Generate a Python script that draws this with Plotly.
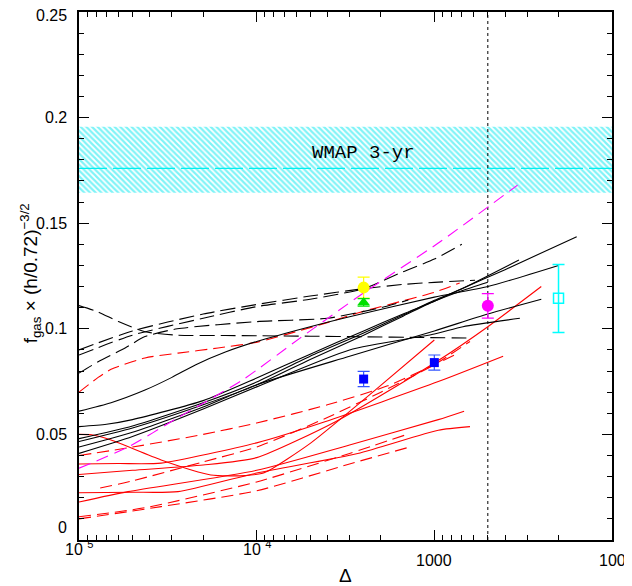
import math
import plotly.graph_objects as go

# ---------------- data (Delta, f_gas) ----------------
# black dashed curves
bd1_x = [100000, 78000, 60000, 42500, 28000, 15000, 10000, 5000, 2500, 1200, 630]
bd1_y = [0.111, 0.108, 0.1034, 0.0986, 0.097, 0.0968, 0.0967, 0.0965, 0.0962, 0.0959, 0.0956]
bd2_x = [100000, 50000, 20000, 10000, 5000, 2500, 1500, 1000, 590]
bd2_y = [0.090, 0.099, 0.107, 0.1115, 0.1155, 0.119, 0.121, 0.122, 0.123]
bd3_x = [100000, 50000, 20000, 10000, 5000, 2500, 1500, 1000, 700]
bd3_y = [0.0876, 0.097, 0.105, 0.1105, 0.114, 0.119, 0.127, 0.133, 0.140]
bd4_x = [100000, 78000, 55000, 42500, 28000, 10000, 4000, 2000, 1400]
bd4_y = [0.079, 0.0844, 0.0909, 0.0963, 0.100, 0.1034, 0.105, 0.110, 0.1136]

# black solid curves
bs1_x = [100000, 66000, 42500, 30000, 22000, 15000, 10000, 5000, 3000, 1000, 500, 200]
bs1_y = [0.061, 0.065, 0.071, 0.077, 0.083, 0.089, 0.094, 0.101, 0.1057, 0.115, 0.120, 0.130]
k1_x = [100000, 70000, 50000, 20000, 10000, 5000, 2500, 1500, 1000, 700, 400, 158]
k1_y = [0.0537, 0.0548, 0.057, 0.066, 0.0767, 0.088, 0.099, 0.107, 0.113, 0.119, 0.128, 0.1436]
k2_x = [100000, 50000, 20000, 10000, 5000, 2500, 1500, 1000, 700, 334]
k2_y = [0.048, 0.054, 0.065, 0.0748, 0.087, 0.098, 0.1065, 0.1135, 0.119, 0.1326]
k3_x = [100000, 50000, 20000, 10000, 5000, 2500, 1500, 1000, 700, 500]
k3_y = [0.0466, 0.053, 0.064, 0.0734, 0.0855, 0.097, 0.106, 0.113, 0.118, 0.122]
ka_x = [100000, 50000, 20000, 10000, 3000, 1000, 690, 330]
ka_y = [0.041, 0.049, 0.062, 0.0725, 0.090, 0.0975, 0.101, 0.105]
kb_x = [100000, 50000, 20000, 10000, 3000, 1000, 500, 250]
kb_y = [0.044, 0.051, 0.063, 0.0735, 0.087, 0.099, 0.107, 0.114]

# red dashed curves
rd1_x = [100000, 78000, 66000, 42500, 27700, 16500, 9800, 4100, 2700, 990, 720]
rd1_y = [0.070, 0.077, 0.0808, 0.0862, 0.0885, 0.0909, 0.0938, 0.1027, 0.1075, 0.1174, 0.1217]
rd2_x = [100000, 50000, 20000, 10000, 4000, 1830, 750]
rd2_y = [0.040, 0.044, 0.050, 0.0554, 0.064, 0.073, 0.088]
rd3_x = [76000, 50000, 20000, 10000, 4000, 2000, 1000, 630]
rd3_y = [0.0246, 0.028, 0.037, 0.044, 0.058, 0.070, 0.083, 0.094]
rd4_x = [100000, 42500, 10000, 3000, 1460]
rd4_y = [0.011, 0.0153, 0.0275, 0.041, 0.0497]
rd5_x = [100000, 34500, 10000, 3000, 1380]
rd5_y = [0.010, 0.0158, 0.0233, 0.036, 0.044]

# red solid curves
rh_x = [100000, 85000, 66000, 34500, 18100, 11600, 9000, 4950, 2080, 1000]
rh_y = [0.050, 0.0498, 0.0473, 0.0379, 0.0308, 0.0305, 0.032, 0.046, 0.072, 0.0947]
r1_x = [100000, 50000, 20000, 10000, 3600, 950, 500, 250]
r1_y = [0.031, 0.033, 0.0355, 0.039, 0.056, 0.085, 0.101, 0.120]
r3_x = [100000, 60000, 34500, 10000, 4130, 950, 410]
r3_y = [0.036, 0.0362, 0.0364, 0.046, 0.056, 0.075, 0.087]
r7_x = [100000, 50000, 27700, 10000, 2700, 950, 630]
r7_y = [0.0224, 0.0226, 0.0229, 0.0317, 0.041, 0.052, 0.0537]
r6_x = [100000, 53000, 10000, 3000, 950, 680]
r6_y = [0.018, 0.0229, 0.033, 0.045, 0.057, 0.061]

# magenta dashed
mg_x = [100000, 53000, 28000, 12000, 5700, 2500, 950, 340]
mg_y = [0.034, 0.044, 0.0577, 0.0758, 0.0956, 0.117, 0.1406, 0.168]

# observational points
yel_x, yel_y, yel_e = [2500], [0.1195], [0.005]
grn_x, grn_y, grn_e = [2500], [0.1125], [0.0018]
blu_x, blu_y, blu_e = [2500, 1000], [0.0762, 0.0840], [0.0036, 0.0036]
mag_x, mag_y, mag_e = [500], [0.1109], [0.0058]
cyn_x, cyn_y, cyn_lo, cyn_hi = [200], [0.1145], [0.0162], [0.016]

# WMAP band
wmap_lo, wmap_mid, wmap_hi = 0.1644, 0.176, 0.1957
x_min, x_max = 100000, 100
delta_vline = 500

xtick_vals = [100000, 10000, 1000, 100]
xtick_text = ["10 <sup>5</sup>", "10 <sup>4</sup>", "1000", "100"]
ytick_vals = [0, 0.05, 0.1, 0.15, 0.2, 0.25]
ytick_text = ["0", "0.05", "0.1", "0.15", "0.2", "0.25"]

fig = go.Figure()

# WMAP hatched band
fig.add_trace(go.Scatter(
    x=[x_min, x_max, x_max, x_min, x_min],
    y=[wmap_lo, wmap_lo, wmap_hi, wmap_hi, wmap_lo],
    mode="lines", line=dict(width=0), fill="toself",
    fillcolor="rgba(0,0,0,0)",
    fillpattern=dict(shape="\\", fgcolor="#00e8f0", bgcolor="white", size=4, solidity=0.55),
    hoverinfo="skip", showlegend=False))
fig.add_trace(go.Scatter(x=[x_min, x_max], y=[wmap_mid, wmap_mid], mode="lines",
                         line=dict(color="#00f0f0", width=1.2, dash="28px,6px"), showlegend=False))

# vertical dotted line
fig.add_trace(go.Scatter(x=[delta_vline, delta_vline], y=[0, 0.25], mode="lines",
                         line=dict(color="black", width=1, dash="dot"), showlegend=False))

def curve(x, y, color, dash=None, width=1.1):
    fig.add_trace(go.Scatter(x=x, y=y, mode="lines",
                             line=dict(color=color, width=width, dash=dash, shape="spline", smoothing=0.6),
                             showlegend=False, hoverinfo="skip"))

RED = "#ff0000"
for xs, ys in [(rh_x, rh_y), (r1_x, r1_y), (r3_x, r3_y), (r7_x, r7_y), (r6_x, r6_y)]:
    curve(xs, ys, RED)
for xs, ys in [(rd1_x, rd1_y), (rd2_x, rd2_y), (rd3_x, rd3_y), (rd4_x, rd4_y), (rd5_x, rd5_y)]:
    curve(xs, ys, RED, dash="12px,6px")
for xs, ys in [(bs1_x, bs1_y), (k1_x, k1_y), (k2_x, k2_y), (k3_x, k3_y), (ka_x, ka_y), (kb_x, kb_y)]:
    curve(xs, ys, "black")
for xs, ys in [(bd1_x, bd1_y), (bd2_x, bd2_y), (bd3_x, bd3_y), (bd4_x, bd4_y)]:
    curve(xs, ys, "black", dash="15px,6px")
curve(mg_x, mg_y, "#ff00ff", dash="12px,7px")

def pts(x, y, e, color, symbol, size, ebw=1.2, cap=6, ecolor=None, line=None, elo=None):
    ey = dict(type="data", array=e, color=ecolor or color, thickness=ebw, width=cap, visible=True)
    if elo is not None:
        ey["symmetric"] = False
        ey["arrayminus"] = elo
    fig.add_trace(go.Scatter(x=x, y=y, mode="markers",
                             marker=dict(color=color, symbol=symbol, size=size,
                                         line=line or dict(width=0)),
                             error_y=ey, showlegend=False))

pts(yel_x, yel_y, yel_e, "#ffff00", "circle", 12)
pts(grn_x, grn_y, grn_e, "#00e000", "triangle-up", 11)
pts(blu_x, blu_y, blu_e, "#0000ff", "square", 9, ecolor="#3355ff")
pts(mag_x, mag_y, mag_e, "#ff00ff", "circle", 12)
pts(cyn_x, cyn_y, cyn_hi, "#00ffff", "square-open", 10, ebw=1.5, elo=cyn_lo,
    line=dict(width=1.5, color="#00ffff"))

fig.add_annotation(x=3.40, y=0.1832, xref="x", yref="y", text="WMAP 3-yr", showarrow=False,
                   font=dict(family="Liberation Mono, Courier New, monospace", size=19, color="black"))

label_font = dict(family="Liberation Sans, Arial, Helvetica, sans-serif", size=16, color="black")

# y tick labels (the "0" label sits slightly raised, as in the reference)
for v, t in zip(ytick_vals, ytick_text):
    yy = v + 0.006 if v == 0 else v
    ys = -3 if v == 0.25 else 0
    fig.add_annotation(x=0, xref="paper", xshift=-10, y=yy, yref="y", yshift=ys, text=t, showarrow=False,
                       xanchor="right", yanchor="middle", font=label_font)
# x tick labels
for v, t in zip(xtick_vals, xtick_text):
    yshift = -8 if "sup" in t else -20
    fig.add_annotation(x=math.log10(v), xref="x", y=0, yref="paper", yshift=yshift, text=t,
                       showarrow=False, xanchor="center", yanchor="middle", font=label_font)
# axis titles
fig.add_annotation(x=0.5, xref="paper", y=0, yref="paper", yshift=-35, text="Δ", showarrow=False,
                   xanchor="center", yanchor="middle",
                   font=dict(family="Liberation Sans, Arial, sans-serif", size=19, color="black"))
fig.add_annotation(x=0, xref="paper", xshift=-49, y=0.505, yref="paper",
                   text="f<sub>gas</sub> × (h/0.72)<sup>−3/2</sup>", textangle=-90, showarrow=False,
                   xanchor="center", yanchor="middle",
                   font=dict(family="Liberation Sans, Arial, sans-serif", size=19, color="black"))

fig.update_xaxes(type="log", range=[5, 2], tickvals=xtick_vals, ticktext=[""] * 4,
                 ticks="inside", ticklen=10, tickwidth=1.2, tickcolor="black",
                 minor=dict(ticks="inside", ticklen=5, tickwidth=1, tickcolor="black", dtick="D1", showgrid=False),
                 showline=True, linecolor="black", linewidth=1.5, mirror="allticks",
                 showgrid=False, zeroline=False, automargin=False)
fig.update_yaxes(range=[0, 0.25], tickvals=ytick_vals, ticktext=[""] * 6,
                 ticks="inside", ticklen=10, tickwidth=1.2, tickcolor="black",
                 minor=dict(ticks="inside", ticklen=5, tickwidth=1, tickcolor="black", dtick=0.01, showgrid=False),
                 showline=True, linecolor="black", linewidth=1.5, mirror="allticks",
                 showgrid=False, zeroline=False, automargin=False)

# the page body adds an 8px offset; margins compensate so the plot area sits at x 79-612, y 12-540
fig.update_layout(width=632, height=586, margin=dict(l=71, r=28, t=4, b=54, autoexpand=False),
                  plot_bgcolor="white", paper_bgcolor="white", showlegend=False)

fig.write_html("out.html")
